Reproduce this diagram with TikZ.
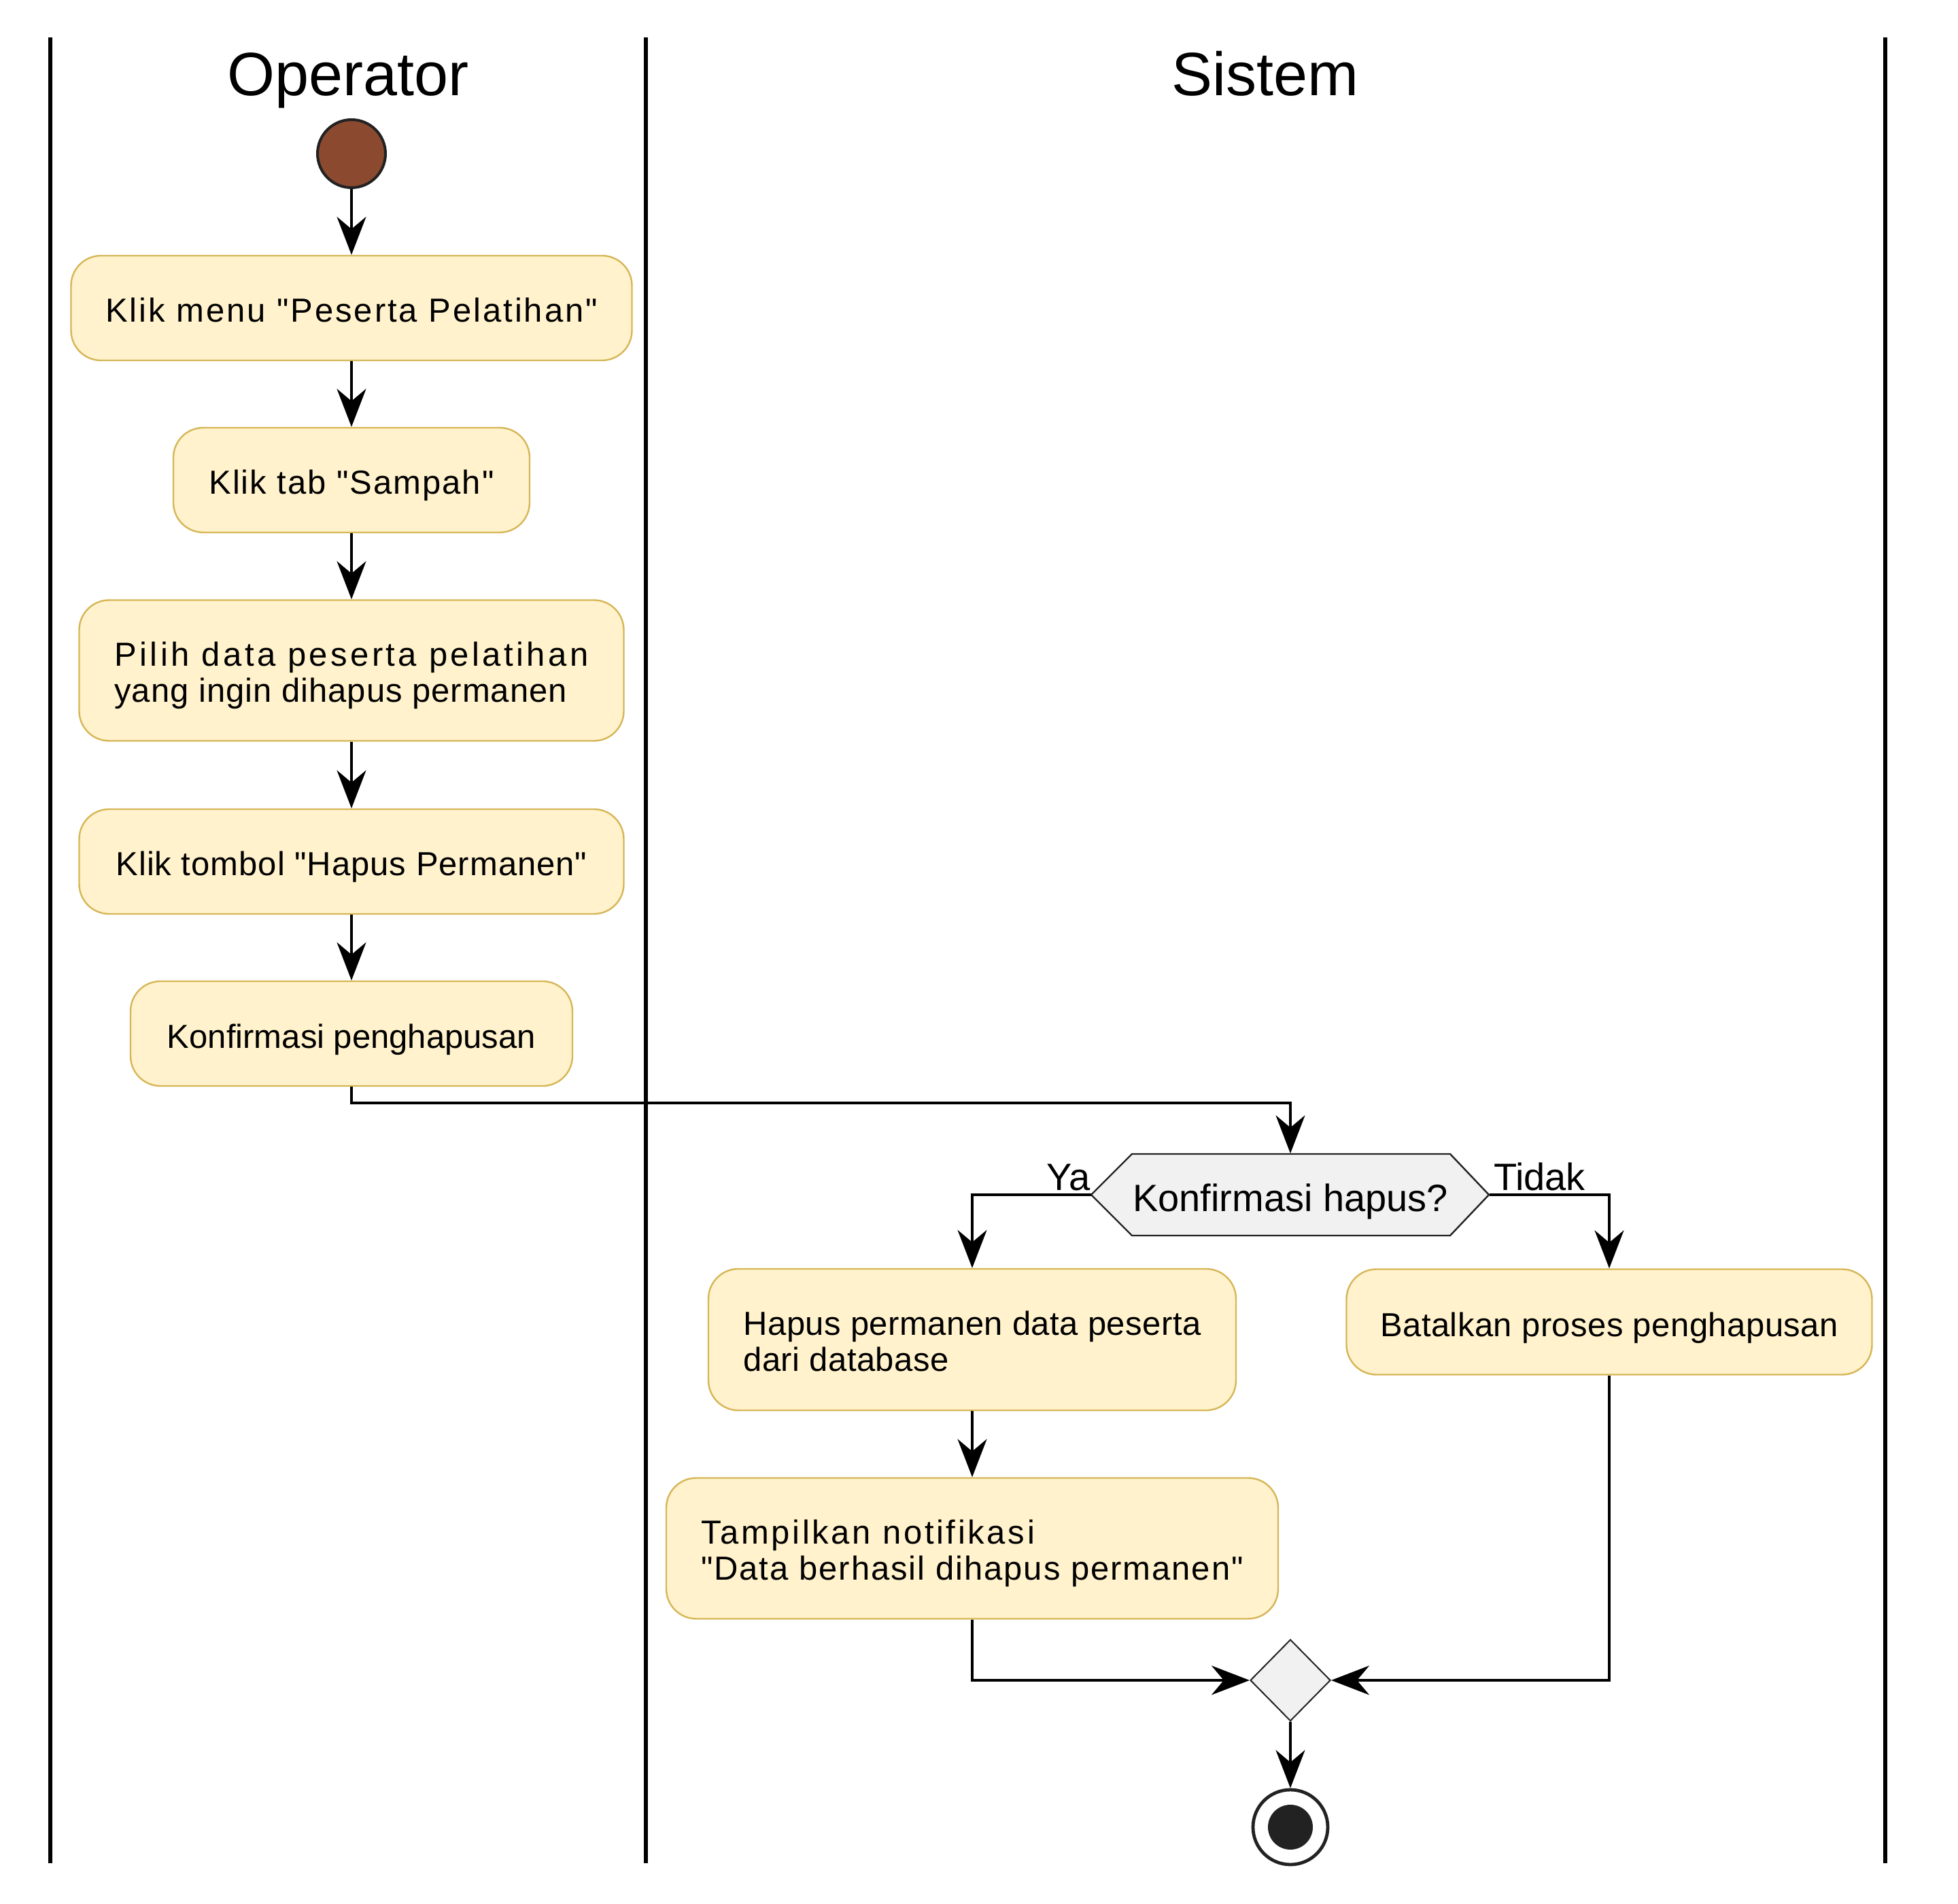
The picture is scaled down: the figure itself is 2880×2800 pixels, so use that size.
\documentclass[tikz,border=0pt]{standalone}
\usepackage{fontspec}
\setmainfont{Liberation Sans}[Ligatures=TeXOff]
\usetikzlibrary{arrows.meta,shapes.geometric,calc}
\definecolor{actfill}{HTML}{FFF2CC}
\definecolor{actdraw}{HTML}{D6B656}
\definecolor{startfill}{HTML}{8B4A2F}
\definecolor{darkline}{HTML}{222222}
\definecolor{decfill}{HTML}{F1F1F1}
\newcommand{\lsp}[2]{{\addfontfeature{LetterSpace=#1}#2}}
\newcommand{\tstr}{\rule{0pt}{12.45pt}}
\newcommand{\bstr}{\rule[-2.6pt]{0pt}{2.6pt}}
\begin{document}
\begin{tikzpicture}[x=0.25pt,y=-0.25pt,
 act/.style={draw=actdraw, fill=actfill, line width=0.6pt, rounded corners=11pt,
   inner xsep=12pt, inner ysep=0pt, font=\fontsize{12.25pt}{13.25pt}\selectfont, align=left},
 act1/.style={act, text height=10.5pt, text depth=0pt},
 conn/.style={draw=black, line width=0.9pt, -{Stealth[length=14pt,width=10.75pt,inset=4.5pt]}},
 lane/.style={draw=black, line width=1.5pt},
 lanetitle/.style={font=\fontsize{22.5pt}{27pt}\selectfont, anchor=base, inner sep=0pt},
 lbl/.style={font=\fontsize{14pt}{16pt}\selectfont, inner sep=0pt},
]
\useasboundingbox (0,0) rectangle (2880,2800);
\fill[white] (0,0) rectangle (2880,2800);

% swimlanes
\draw[lane] (74,55) -- (74,2740);
\draw[lane] (950,55) -- (950,2740);
\draw[lane] (2773,55) -- (2773,2740);
\node[lanetitle] (tOp) at (512,141) {Operator};
\node[lanetitle] (tSys) at (1861,141) {Sistem};

% operator lane
\node[circle, draw=darkline, fill=startfill, line width=1pt, minimum size=25pt, inner sep=0pt] (start) at (517,226) {};
\node[act1, minimum width=206.25pt, minimum height=38.5pt] (b1) at (517,453) {\lsp{6}{Klik menu "Peserta Pelatihan"}};
\node[act1, minimum width=131pt, minimum height=38.5pt] (b2) at (517,706) {\lsp{4}{Klik tab "Sampah"}};
\node[act, minimum width=200.25pt, minimum height=51.75pt] (b3) at (517,986) {\tstr\lsp{9}{Pilih data peserta pelatihan}\\\lsp{2}{yang ingin dihapus permanen}\bstr};
\node[act1, minimum width=200.25pt, minimum height=38.5pt] (b4) at (517,1267) {\lsp{2}{Klik tombol "Hapus Permanen"}};
\node[act1, minimum width=162.5pt, minimum height=38.5pt] (b5) at (517,1520) {Konfirmasi penghapusan};

% system lane
\filldraw[fill=decfill, draw=darkline, line width=0.6pt]
  (1605,1757) -- (1665,1697) -- (2133,1697) -- (2190,1757) -- (2133,1817) -- (1665,1817) -- cycle;
\node[lbl, minimum width=146.25pt, minimum height=30pt, text height=12pt, text depth=0pt] (dec) at (1898,1757) {Konfirmasi hapus?};
\node[lbl, anchor=base east] (ya) at ([yshift=1.75pt]dec.west) {Ya};
\node[lbl, anchor=base west] (tidak) at ([xshift=1.25pt,yshift=1.75pt]dec.east) {Tidak};

\node[act, minimum width=194pt, minimum height=52pt] (b6) at (1430,1970) {\tstr\lsp{1}{Hapus permanen data peserta}\\\lsp{1}{dari database}\bstr};
\node[act1, minimum width=193.25pt, minimum height=38.75pt] (b7) at (2367,1944) {\lsp{1}{Batalkan proses penghapusan}};
\node[act, minimum width=225pt, minimum height=51.75pt] (b8) at (1430,2277) {\tstr\lsp{7.5}{Tampilkan notifikasi}\\\lsp{4}{"Data berhasil dihapus permanen"}\bstr};

\node[diamond, draw=darkline, fill=decfill, line width=0.5pt, minimum width=29.5pt, minimum height=30pt, inner sep=0pt] (merge) at (1898,2471) {};
\node[circle, draw=darkline, fill=white, line width=1.2pt, minimum size=27.5pt, inner sep=0pt] (endn) at (1898,2687) {};
\fill[darkline] (endn.center) circle (8.25pt);

% connectors
\draw[conn] (start) -- (b1);
\draw[conn] (b1) -- (b2);
\draw[conn] (b2) -- (b3);
\draw[conn] (b3) -- (b4);
\draw[conn] (b4) -- (b5);
\draw[conn] (b5.south) -- ++(0,24) -| (dec.north);
\draw[conn] (dec.west) -| (b6.north);
\draw[conn] (dec.east) -| (b7.north);
\draw[conn] (b6) -- (b8);
\draw[conn] (b8.south) |- (merge.west);
\draw[conn] (b7.south) |- (merge.east);
\draw[conn] (merge) -- (endn);
\end{tikzpicture}
\end{document}
